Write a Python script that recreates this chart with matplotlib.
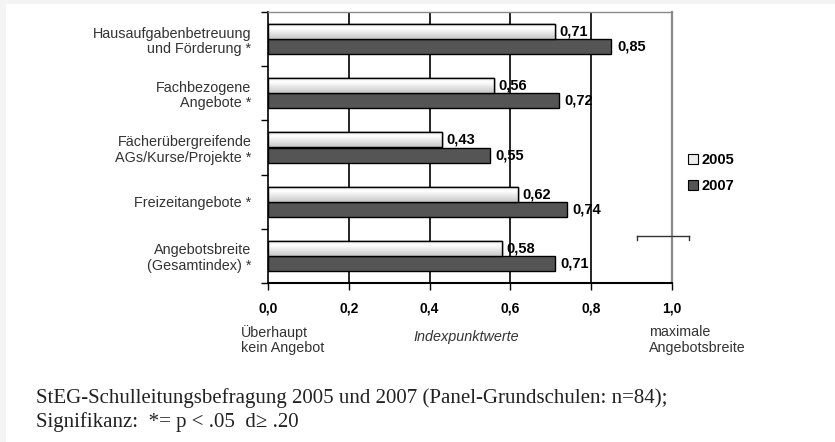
import numpy as np
import matplotlib
matplotlib.use("Agg")
import matplotlib.pyplot as plt
from matplotlib.lines import Line2D
from matplotlib.patches import Rectangle, Patch

categories = [
    "Hausaufgabenbetreuung\nund Förderung *",
    "Fachbezogene\nAngebote *",
    "Fächerübergreifende\nAGs/Kurse/Projekte *",
    "Freizeitangebote *",
    "Angebotsbreite\n(Gesamtindex) *",
]
values_2005 = [0.71, 0.56, 0.43, 0.62, 0.58]
values_2007 = [0.85, 0.72, 0.55, 0.74, 0.71]
series_names = ["2005", "2007"]
xticks = [0.0, 0.2, 0.4, 0.6, 0.8, 1.0]
xtick_labels = ["0,0", "0,2", "0,4", "0,6", "0,8", "1,0"]

W, H = 835, 442
fig = plt.figure(figsize=(W / 100, H / 100), dpi=100)
plt.rcParams['font.family'] = ['Liberation Sans', 'DejaVu Sans']

# faint page border (left and top)
fig.patches.append(Rectangle((0, 0), 1, 1, transform=fig.transFigure,
                             facecolor="#f4f4f4", edgecolor="none", zorder=-10))
fig.patches.append(Rectangle((6 / W, -0.05), 1, 1.05 - 4 / H, transform=fig.transFigure,
                             facecolor="white", edgecolor="none", zorder=-9))

def fx(px):
    return px / W

def fy(py):
    return 1 - py / H

ax = fig.add_axes([fx(268), fy(283), fx(672) - fx(268), fy(12) - fy(283)])
ax.set_facecolor("none")

n = len(categories)
y = np.arange(n)
h = 0.28
bars05 = ax.barh(y - h / 2, values_2005, height=h, color="#ededed",
                 edgecolor="black", linewidth=1.0, zorder=3)
bars07 = ax.barh(y + h / 2, values_2007, height=h, color="#555555",
                 edgecolor="black", linewidth=1.0, zorder=3)

# gradient fill for 2005 bars
grad = np.concatenate([np.linspace(0.86, 1.0, 30), np.linspace(1.0, 0.78, 70)])
grad = grad.reshape(-1, 1)
for p in bars05:
    x0, y0 = p.get_x(), p.get_y()
    w, hh = p.get_width(), p.get_height()
    im = ax.imshow(grad, cmap="gray", vmin=0, vmax=1, aspect="auto",
                   extent=(x0, x0 + w, y0 + hh, y0), origin="upper", zorder=3.5)
    im.set_clip_path(p)
    r = Rectangle((x0, y0), w, hh, facecolor="none", edgecolor="black",
                  linewidth=1.0, zorder=4)
    ax.add_patch(r)

ax.set_xlim(0, 1.0)
ax.set_ylim(n - 0.5, -0.5)

# value labels
for v, yy in zip(values_2005, y - h / 2):
    ax.annotate(f"{v:.2f}".replace(".", ","), (v, yy), xytext=(3, 0),
                textcoords="offset points", va="center", ha="left",
                fontsize=10.5, fontweight="bold", zorder=6)
for v, yy in zip(values_2007, y + h / 2):
    ax.annotate(f"{v:.2f}".replace(".", ","), (v, yy), xytext=(4, 0),
                textcoords="offset points", va="center", ha="left",
                fontsize=10.5, fontweight="bold", zorder=6)

# grid lines
for xv in xticks[1:-1]:
    ax.axvline(xv, color="black", linewidth=1.2, zorder=2)

# spines
ax.spines["left"].set_color("black")
ax.spines["bottom"].set_color("black")
ax.spines["left"].set_linewidth(1.2)
ax.spines["bottom"].set_linewidth(1.5)
ax.spines["top"].set_color("#8a8a8a")
ax.spines["right"].set_color("#8a8a8a")
ax.spines["top"].set_linewidth(1.0)
ax.spines["right"].set_linewidth(1.6)

ax.set_xticks(xticks)
ax.set_xticklabels(xtick_labels, fontsize=10, fontweight="bold")
ax.tick_params(axis="x", length=5, width=1, pad=8, direction="out")

ax.set_yticks(y)
ax.set_yticklabels(categories, fontsize=10.4, color="#333333", linespacing=1.15)
ax.set_yticks(np.arange(n + 1) - 0.5, minor=True)
ax.tick_params(axis="y", which="major", length=0, pad=12)
ax.tick_params(axis="y", which="minor", length=5, width=1, direction="out")

# legend
handles = [Patch(facecolor="#ededed", edgecolor="black", linewidth=0.8),
           Patch(facecolor="#555555", edgecolor="black", linewidth=0.8)]
leg = fig.legend(handles, series_names, loc="upper left",
                 bbox_to_anchor=(fx(675), fy(140)), frameon=False,
                 handlelength=0.7, handleheight=0.7, handletextpad=0.25,
                 labelspacing=0.8, prop={"weight": "bold", "size": 10.5})

# bracket mark near right
fig.add_artist(Line2D([fx(637), fx(689)], [fy(236), fy(236)], color="#333333", lw=1))
fig.add_artist(Line2D([fx(637), fx(637)], [fy(236), fy(240)], color="#333333", lw=1))
fig.add_artist(Line2D([fx(689), fx(689)], [fy(236), fy(240)], color="#333333", lw=1))

# axis annotations
fig.text(fx(241), fy(340), "Überhaupt\nkein Angebot", fontsize=10.3, color="#333333",
         ha="left", va="center", linespacing=1.15)
fig.text(fx(466), fy(337), "Indexpunktwerte", fontsize=10.4, color="#333333",
         ha="center", va="center", style="italic")
fig.text(fx(649), fy(340), "maximale\nAngebotsbreite", fontsize=10.3, color="#333333",
         ha="left", va="center", linespacing=1.15)

# footer
fig.text(fx(36), fy(398), "StEG-Schulleitungsbefragung 2005 und 2007 (Panel-Grundschulen: n=84);",
         fontsize=15, family="Liberation Serif", color="#222222", ha="left", va="center")
fig.text(fx(36), fy(422), "Signifikanz:  *= p < .05  d\u2265 .20",
         fontsize=15, family="Liberation Serif", color="#222222", ha="left", va="center")

fig.savefig("out.png", dpi=100)
